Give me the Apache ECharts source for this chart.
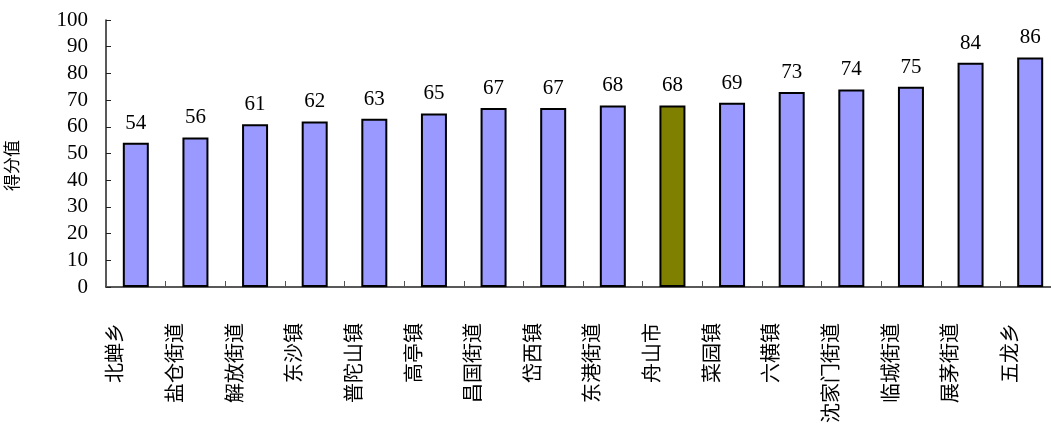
<!DOCTYPE html>
<html>
<head>
<meta charset="utf-8">
<script src="https://cdn.jsdelivr.net/npm/echarts@6/dist/echarts.min.js"></script>
<style>html,body{margin:0;padding:0;background:#fff}#c{width:1051px;height:430px}</style>
</head>
<body>
<div id="c"></div>
<script>
var categories = ['北蝉乡','盐仓街道','解放街道','东沙镇','普陀山镇','高亭镇','昌国街道','岱西镇','东港街道','舟山市','菜园镇','六横镇','沈家门街道','临城街道','展茅街道','五龙乡'];
var values = [54,56,61,62,63,65,67,67,68,68,69,73,74,75,84,86];
var highlightName = '舟山市';
var yName = '得分值';

var chart = echarts.init(document.getElementById('c'));
var numFont = '"Liberation Serif","DejaVu Serif",serif';
var cjkFont = '"Noto Sans CJK SC",sans-serif';
chart.setOption({
  animation: false,
  grid: {left: 106, top: 20, width: 954, bottom: 143, containLabel: false, outerBoundsMode: 'none'},
  xAxis: {
    type: 'category',
    data: categories,
    axisLine: {lineStyle: {color: '#222', width: 1.5}},
    axisTick: {show: true, inside: true, length: 6, alignWithLabel: false, lineStyle: {color: '#555'}},
    axisLabel: {rotate: 90, margin: 36, color: '#000', fontSize: 20, fontFamily: cjkFont, interval: 0,
      verticalAlign: 'bottom', lineHeight: 42}
  },
  yAxis: {
    type: 'value', min: 0, max: 100, interval: 10,
    name: yName, nameLocation: 'middle', nameGap: 86, nameRotate: 90,
    nameTextStyle: {fontSize: 17, color: '#000', fontFamily: cjkFont, padding: [0, 24, 0, 0]},
    splitLine: {show: false},
    axisLine: {show: true, lineStyle: {color: '#222', width: 1.5}},
    axisTick: {show: true, inside: true, length: 5, lineStyle: {color: '#222'}},
    axisLabel: {color: '#000', fontSize: 21, fontFamily: numFont, margin: 18}
  },
  series: [{
    type: 'bar',
    barWidth: 26,
    data: values.map(function (v, i) {
      return {value: v, itemStyle: {color: categories[i] === highlightName ? '#808000' : '#9999FF'}};
    }),
    itemStyle: {borderColor: '#000', borderWidth: 2},
    label: {show: true, position: 'top', distance: 9, color: '#000', fontSize: 21, fontFamily: numFont}
  }]
});
</script>
</body>
</html>
